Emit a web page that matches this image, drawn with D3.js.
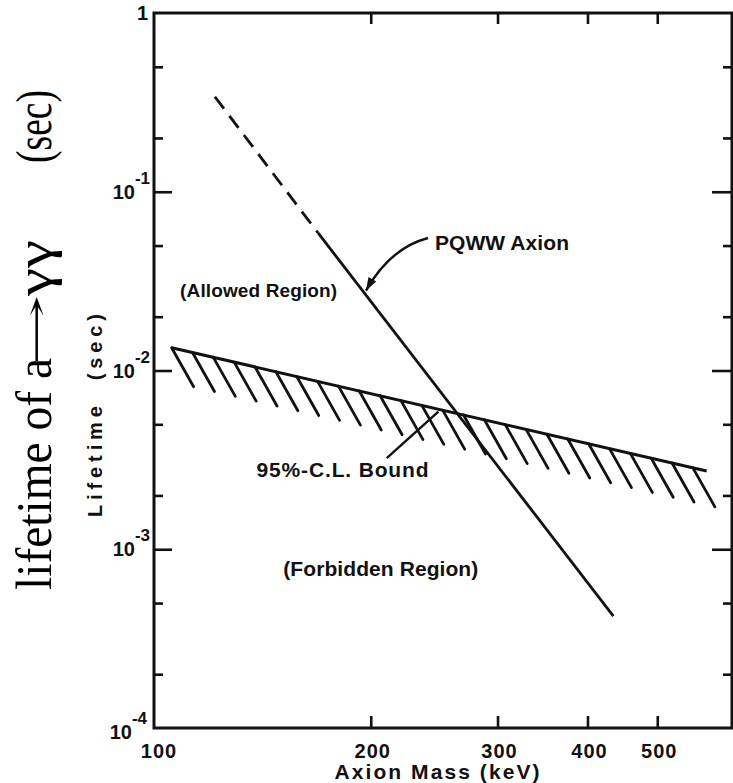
<!DOCTYPE html>
<html>
<head>
<meta charset="utf-8">
<script src="https://cdn.jsdelivr.net/npm/d3@7"></script>
<style>
  html, body { margin: 0; padding: 0; background: #fff; }
  svg { display: block; }
  .lettering { font-family: "Liberation Sans", Arial, Helvetica, sans-serif; font-weight: bold; fill: #111; }
</style>
</head>
<body>
<svg id="chart" width="733" height="783"></svg>
<script>
// Axion lifetime for a -> gamma gamma versus axion mass:
// PQWW axion prediction and the 95% C.L. experimental lower bound.

// Axis ticks
const massTicks = [200, 300, 400, 500];
const massLabels = [100, 200, 300, 400, 500];
const lifetimeMajor = [1, 1e-1, 1e-2, 1e-3, 1e-4];
const lifetimeExponents = [0, -1, -2, -3, -4];
const lifetimeMinor = [0.5, 0.2, 0.05, 0.02, 0.005, 0.002, 0.0005, 0.0002];

// PQWW axion lifetime (keV, sec): dashed part, then solid part
const pqwwDashed = [[121.5, 0.340], [169, 0.0588]];
const pqwwSolid = [[169, 0.0588], [434.5, 4.23e-4]];

// 95% C.L. bound (keV, sec)
const bound = [[105.8, 0.01341], [585.6, 2.74e-3]];
const hatchCount = 26;

// Text notes, anchored in (keV, sec)
const noteText = ["PQWW Axion", "(Allowed Region)", "95%-C.L. Bound", "(Forbidden Region)"];
const noteMass = [245.6, 108.7, 138.8, 151.2];
const noteLifetime = [0.0472, 0.0259, 2.55e-3, 7.08e-4];

// Arrow from the PQWW note to its line, and the leader to the bound
const pqwwArrow = [[240.2, 0.0551], [197, 0.0280]];
const boundLeader = [[210.5, 3.23e-3], [248.3, 5.88e-3]];

// ---------------------------------------------------------------
const svg = d3.select("#chart");
const ink = "#111";

const x = d3.scaleLog().domain([100, 635]).range([154, 732]);
const y = d3.scaleLog().domain([1e-4, 1]).range([728, 13]);

const [x0, x1] = x.range();
const [y0, y1] = y.range(); // y0 bottom, y1 top

// Frame
svg.append("rect")
  .attr("x", x0).attr("y", y1)
  .attr("width", x1 - x0).attr("height", y0 - y1)
  .attr("fill", "none").attr("stroke", ink).attr("stroke-width", 3);

// Inward ticks on all four sides
function ticks(axisGen, tx, ty, values, size) {
  const g = svg.append("g").attr("transform", `translate(${tx},${ty})`)
    .call(axisGen.tickValues(values).tickSize(size).tickFormat(""));
  g.select(".domain").remove();
  g.selectAll(".tick line").attr("stroke", ink).attr("stroke-width", 2.6);
  return g;
}
ticks(d3.axisLeft(y), x0, 0, lifetimeMajor.slice(1, 4), -18);
ticks(d3.axisLeft(y), x0, 0, lifetimeMinor, -9);
ticks(d3.axisRight(y), x1, 0, lifetimeMajor.slice(1, 4), -20);
ticks(d3.axisRight(y), x1, 0, lifetimeMinor, -9);
ticks(d3.axisBottom(x), 0, y0, massTicks, -12);
ticks(d3.axisTop(x), 0, y1, massTicks, -11);

// Lifetime tick labels as powers of ten
lifetimeMajor.forEach((v, i) => {
  const e = lifetimeExponents[i];
  const cy = y(v) + (e === -4 ? 4 : 0);
  if (e === 0) {
    svg.append("text").attr("class", "lettering")
      .attr("x", 148).attr("y", cy + 7)
      .attr("text-anchor", "end").attr("font-size", 20).text("1");
  } else {
    const t = svg.append("text").attr("class", "lettering")
      .attr("x", e === -4 ? 147 : 150).attr("y", cy + 7)
      .attr("text-anchor", "end").attr("font-size", 20);
    t.append("tspan").text("10");
    t.append("tspan").attr("dy", -15).attr("font-size", 17).text(String(e));
  }
});

// Mass tick labels
massLabels.forEach((m, i) => {
  svg.append("text").attr("class", "lettering")
    .attr("x", x(m) + (i === 0 ? 5 : 2)).attr("y", 758)
    .attr("text-anchor", "middle").attr("font-size", 20)
    .attr("letter-spacing", 1)
    .text(m);
});

// Axis titles
svg.append("text").attr("class", "lettering")
  .attr("x", 437).attr("y", 779)
  .attr("text-anchor", "middle").attr("font-size", 21)
  .attr("textLength", 205).attr("lengthAdjust", "spacing")
  .text("Axion Mass (keV)");

svg.append("text").attr("class", "lettering")
  .attr("transform", "translate(102,517) rotate(-90)")
  .attr("font-size", 20).attr("textLength", 203).attr("lengthAdjust", "spacing")
  .style("white-space", "pre")
  .text("Lifetime  (sec)");

// Large serif title along the left edge: "lifetime of a→γγ   (sec)"
const serif = "'Liberation Serif', 'Times New Roman', Times, serif";
function serifText(str, baseX, startY, len, font, size) {
  return svg.append("text")
    .attr("transform", `translate(${baseX},${startY}) rotate(-90)`)
    .attr("font-family", font || serif).attr("font-size", size || 50).attr("fill", "#000")
    .attr("textLength", len).attr("lengthAdjust", "spacingAndGlyphs")
    .text(str);
}
serifText("lifetime of a", 51, 590, 232);
serifText("\u2192", 47, 366, 72, "'DejaVu Serif', serif", 32);
serifText("\u03b3\u03b3", 51, 296, 56);
serifText("(sec)", 51, 163, 73);

// Curves
const line = d3.line().x(d => x(d[0])).y(d => y(d[1]));

svg.append("path").datum(pqwwDashed).attr("d", line)
  .attr("fill", "none").attr("stroke", ink).attr("stroke-width", 2.8)
  .attr("stroke-dasharray", "15,9");
svg.append("path").datum(pqwwSolid).attr("d", line)
  .attr("fill", "none").attr("stroke", ink).attr("stroke-width", 2.8);

svg.append("path").datum(bound).attr("d", line)
  .attr("fill", "none").attr("stroke", ink).attr("stroke-width", 3);

// Hatching hanging below the bound (excluded side)
const bx0 = x(bound[0][0]), by0 = y(bound[0][1]);
const bx1 = x(bound[1][0]), by1 = y(bound[1][1]);
const hatchStep = 20.85;
const hatches = d3.range(hatchCount).map(i => {
  const hx = bx0 + i * hatchStep;
  const hy = by0 + (hx - bx0) / (bx1 - bx0) * (by1 - by0);
  return [hx, hy];
});
svg.append("g").selectAll("line").data(hatches).join("line")
  .attr("x1", d => d[0]).attr("y1", d => d[1])
  .attr("x2", d => d[0] + 22).attr("y2", d => d[1] + 39)
  .attr("stroke", ink).attr("stroke-width", 2.8).attr("stroke-linecap", "round");

// Notes
const noteSize = [21, 19, 21, 21];
const noteLen = [134, 157, 172, 195];
noteText.forEach((t, i) => {
  svg.append("text").attr("class", "lettering")
    .attr("x", x(noteMass[i])).attr("y", y(noteLifetime[i]))
    .attr("font-size", noteSize[i])
    .attr("textLength", noteLen[i]).attr("lengthAdjust", "spacing")
    .text(t);
});

// Curved arrow to the PQWW line
const [ta, tb] = pqwwArrow.map(d => [x(d[0]), y(d[1])]);
const ctrl = [tb[0] + 24, ta[1] + 10];
svg.append("path")
  .attr("d", `M${ta[0]},${ta[1]} Q${ctrl[0]},${ctrl[1]} ${tb[0]},${tb[1]}`)
  .attr("fill", "none").attr("stroke", ink).attr("stroke-width", 2.4);
const ang = Math.atan2(tb[1] - ctrl[1], tb[0] - ctrl[0]);
const headLen = 13, headW = 4.5;
const hb = [tb[0] - headLen * Math.cos(ang), tb[1] - headLen * Math.sin(ang)];
svg.append("path")
  .attr("d", `M${tb[0]},${tb[1]} L${hb[0] - headW * Math.sin(ang)},${hb[1] + headW * Math.cos(ang)} L${hb[0] + headW * Math.sin(ang)},${hb[1] - headW * Math.cos(ang)} Z`)
  .attr("fill", ink);

// Leader line to the bound
svg.append("path").datum(boundLeader).attr("d", line)
  .attr("fill", "none").attr("stroke", ink).attr("stroke-width", 2.4);
</script>
</body>
</html>
